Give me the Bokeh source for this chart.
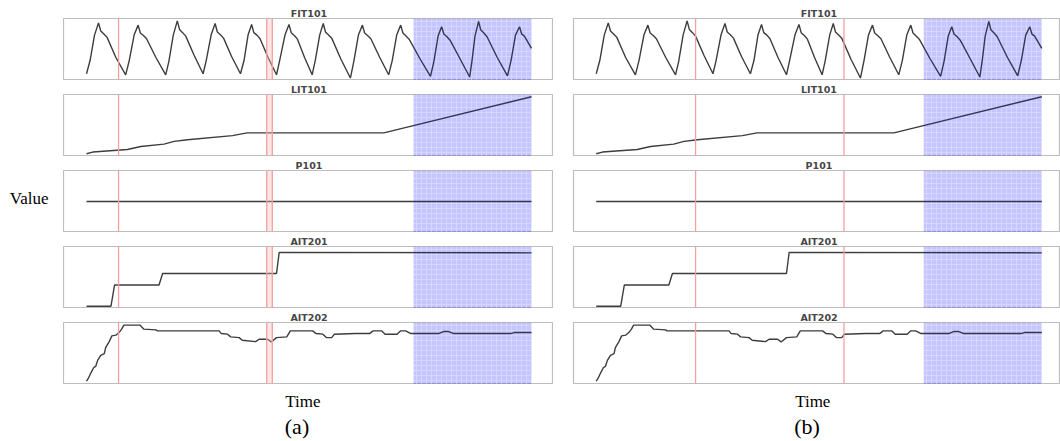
from bokeh.plotting import figure
from bokeh.layouts import column, row
from bokeh.models import Span, BoxAnnotation, Label, ColumnDataSource
from bokeh.embed import file_html
from bokeh.resources import INLINE

# ---------------- data ----------------
signals = ["FIT101", "LIT101", "P101", "AIT201", "AIT202"]

fit101_t = [0.0, 0.8, 1.8, 2.7, 3.2, 3.9, 4.6, 6.6, 8.8,
            9.6, 10.7, 11.6, 12.1, 12.8, 13.5, 15.6, 17.8,
            18.5, 19.5, 20.4, 20.9, 21.6, 22.3, 24.2, 26.2,
            26.9, 28.0, 28.9, 29.4, 30.1, 30.8, 32.6, 34.6,
            35.4, 36.3, 37.1, 37.6, 38.3, 39.0, 40.8, 42.7,
            43.4, 44.6, 45.5, 46.0, 46.7, 47.4, 49.0, 50.7,
            51.4, 52.4, 53.2, 53.7, 54.4, 55.1, 57.2, 59.3,
            60.1, 61.1, 62.0, 62.5, 63.2, 63.9, 65.9, 67.9,
            68.7, 69.7, 70.6, 71.1, 71.8, 72.5, 74.9, 77.3,
            78.1, 79.0, 79.8, 80.3, 81.0, 81.7, 83.9, 86.1,
            86.6, 87.3, 88.1, 88.6, 89.3, 90.0, 92.3, 94.6,
            95.4, 96.4, 97.3, 97.8, 98.4, 100.0]
fit101_v = [0.10, 0.75, 2.00, 2.60, 2.20, 2.05, 1.90, 0.90, 0.05,
            0.75, 2.00, 2.49, 2.10, 1.98, 1.82, 0.90, 0.05,
            0.70, 2.00, 2.70, 2.28, 2.12, 1.95, 1.00, 0.10,
            0.75, 2.00, 2.57, 2.15, 2.02, 1.85, 0.95, 0.10,
            0.75, 2.00, 2.52, 2.12, 2.00, 1.82, 0.90, 0.05,
            0.75, 2.00, 2.52, 2.12, 1.98, 1.80, 0.90, 0.05,
            0.75, 2.00, 2.57, 2.15, 2.00, 1.85, 0.80, -0.11,
            0.75, 2.00, 2.49, 2.10, 1.97, 1.82, 0.90, 0.05,
            0.75, 2.00, 2.49, 2.10, 1.95, 1.80, 0.85, -0.03,
            0.75, 1.95, 2.41, 2.05, 1.92, 1.75, 0.85, -0.06,
            0.70, 1.95, 2.67, 2.25, 2.10, 1.92, 0.90, 0.00,
            0.75, 2.00, 2.41, 2.05, 1.95, 1.35]

lit101_t = [0.0, 1.4, 9.2, 12.2, 17.4, 19.7, 22.7, 32.8, 36.1, 66.8, 100.0]
lit101_v = [520, 529, 542, 558, 570, 584, 593, 614, 628, 628, 815]

p101_t = [0.0, 100.0]
p101_v = [2, 2]

ait201_t = [0.0, 5.5, 6.3, 16.3, 17.1, 42.7, 43.3, 100.0]
ait201_v = [255.0, 255.0, 259.2, 259.2, 261.5, 261.5, 265.7, 265.6]

ait202_t = [0.0, 0.4, 1.0, 1.6, 2.1, 2.5, 3.2, 4.0, 4.3, 5.1, 5.7, 6.6, 7.3,
            7.9, 8.4, 12.0, 12.9, 15.6, 15.9, 29.8, 30.3, 31.7, 32.4, 34.3,
            35.0, 38.0, 38.8, 40.7, 41.5, 42.7, 45.0, 45.8, 50.8, 51.6, 53.1,
            53.9, 55.1, 55.7, 60.5, 63.6, 64.4, 66.3, 67.1, 69.8, 70.6, 71.7,
            72.9, 79.1, 80.2, 81.4, 82.5, 95.3, 96.1, 100.0]
ait202_v = [8.033, 8.06, 8.116, 8.166, 8.183, 8.24, 8.29, 8.306, 8.366, 8.426,
            8.483, 8.49, 8.516, 8.55, 8.59, 8.59, 8.55, 8.543, 8.533, 8.533,
            8.506, 8.50, 8.473, 8.466, 8.44, 8.426, 8.45, 8.45, 8.423, 8.466,
            8.473, 8.533, 8.533, 8.506, 8.50, 8.466, 8.466, 8.50, 8.506, 8.506,
            8.533, 8.533, 8.50, 8.50, 8.533, 8.533, 8.506, 8.506, 8.526, 8.526,
            8.506, 8.506, 8.516, 8.516]

series = {
    "FIT101": (fit101_t, fit101_v),
    "LIT101": (lit101_t, lit101_v),
    "P101": (p101_t, p101_v),
    "AIT201": (ait201_t, ait201_v),
    "AIT202": (ait202_t, ait202_v),
}

y_limits = {
    "FIT101": (-0.23, 2.815),
    "LIT101": (506.0, 826.8),
    "P101": (1.5, 2.5),
    "AIT201": (254.54, 266.86),
    "AIT202": (8.0, 8.616),
}

# detections (red) and attack window (blue)
left_red_lines = [7.2, 40.5, 41.75]
left_red_bands = [(40.5, 41.75)]
right_red_lines = [22.3, 55.6]
right_red_bands = []
attack_window = (73.5, 100.0)

panel_labels = ["(a)", "(b)"]
y_label = "Value"
x_label = "Time"

# ---------------- layout / style ----------------
FRAME_H = 62
SERIF = "Liberation Serif"
SANS = "DejaVu Sans"
X_RANGES = [(-5.17, 104.94), (-5.1, 104.2)]
WIDTHS = [490, 507]
LEFT_BORDERS = [0, 20]


def blank(width, height, xr=(0, 1), left=0):
    p = figure(width=width, height=height, x_range=xr, y_range=(0, 1),
               min_border_left=left, min_border_right=0, min_border_top=0,
               min_border_bottom=0, x_axis_location=None, y_axis_location=None,
               toolbar_location=None, output_backend="svg", title=None)
    p.grid.visible = False
    p.outline_line_color = None
    p.background_fill_color = "white"
    p.border_fill_color = "white"
    return p


def make_strip(name, i, side):
    h = 18 if i == 0 else 14
    p = blank(WIDTHS[side], h, X_RANGES[side], LEFT_BORDERS[side])
    p.add_layout(Label(x=50, y=4.7, x_units="data", y_units="screen",
                       text=name, text_align="center", text_baseline="alphabetic",
                       text_font=SANS, text_font_size="9.5px",
                       text_font_style="bold", text_color="#474747"))
    return p


def make_panel(name, side):
    reds = left_red_lines if side == 0 else right_red_lines
    bands = left_red_bands if side == 0 else right_red_bands
    p = figure(width=WIDTHS[side], height=FRAME_H,
               x_range=X_RANGES[side], y_range=y_limits[name],
               min_border_left=LEFT_BORDERS[side], min_border_right=0,
               min_border_top=0, min_border_bottom=0,
               x_axis_location=None, y_axis_location=None,
               toolbar_location=None, output_backend="svg", title=None)
    p.grid.visible = False
    p.outline_line_color = "#bdbdbd"
    p.outline_line_width = 1.2
    p.background_fill_color = "white"
    p.border_fill_color = "white"

    # attack window: hatched fill under the line, light tint over it
    p.add_layout(BoxAnnotation(left=attack_window[0], right=attack_window[1],
                               fill_color="blue", fill_alpha=0.13,
                               line_color=None, hatch_pattern="+",
                               hatch_color="white", hatch_alpha=0.55,
                               hatch_scale=5, hatch_weight=1, level="underlay"))

    t, v = series[name]
    src = ColumnDataSource(dict(t=t, v=v))
    p.line("t", "v", source=src, line_color="#3d3d3d", line_width=1.4)

    p.add_layout(BoxAnnotation(left=attack_window[0], right=attack_window[1],
                               fill_color="blue", fill_alpha=0.11,
                               line_color=None))

    for a, b in bands:
        p.add_layout(BoxAnnotation(left=a, right=b, fill_color="#f6b8b8",
                                   fill_alpha=0.35, line_color=None))
    for x in reds:
        p.add_layout(Span(location=x, dimension="height",
                          line_color="#f2a0a0", line_width=1.3))
    return p


def make_bottom(side):
    p = blank(WIDTHS[side], 57, X_RANGES[side], LEFT_BORDERS[side])
    p.add_layout(Label(x=48.6, y=40, x_units="data", y_units="screen",
                       text=x_label, text_align="center",
                       text_baseline="alphabetic", text_font=SERIF,
                       text_font_size="17px", text_color="black"))
    p.add_layout(Label(x=47.3, y=15, x_units="data", y_units="screen",
                       text=panel_labels[side], text_align="center",
                       text_baseline="alphabetic", text_font=SERIF,
                       text_font_size="22px", text_color="black"))
    return p


value_fig = blank(63, 441)
value_fig.add_layout(Label(x=9.3, y=242.7, x_units="screen", y_units="screen",
                           text=y_label, text_align="left",
                           text_baseline="alphabetic", text_font=SERIF,
                           text_font_size="17px", text_color="black"))

cols = [value_fig]
for side in (0, 1):
    items = []
    for i, n in enumerate(signals):
        items.append(make_strip(n, i, side))
        items.append(make_panel(n, side))
    items.append(make_bottom(side))
    cols.append(column(*items, spacing=0))
layout = row(*cols, spacing=0)

open("out.html", "w").write(file_html(layout, INLINE))
